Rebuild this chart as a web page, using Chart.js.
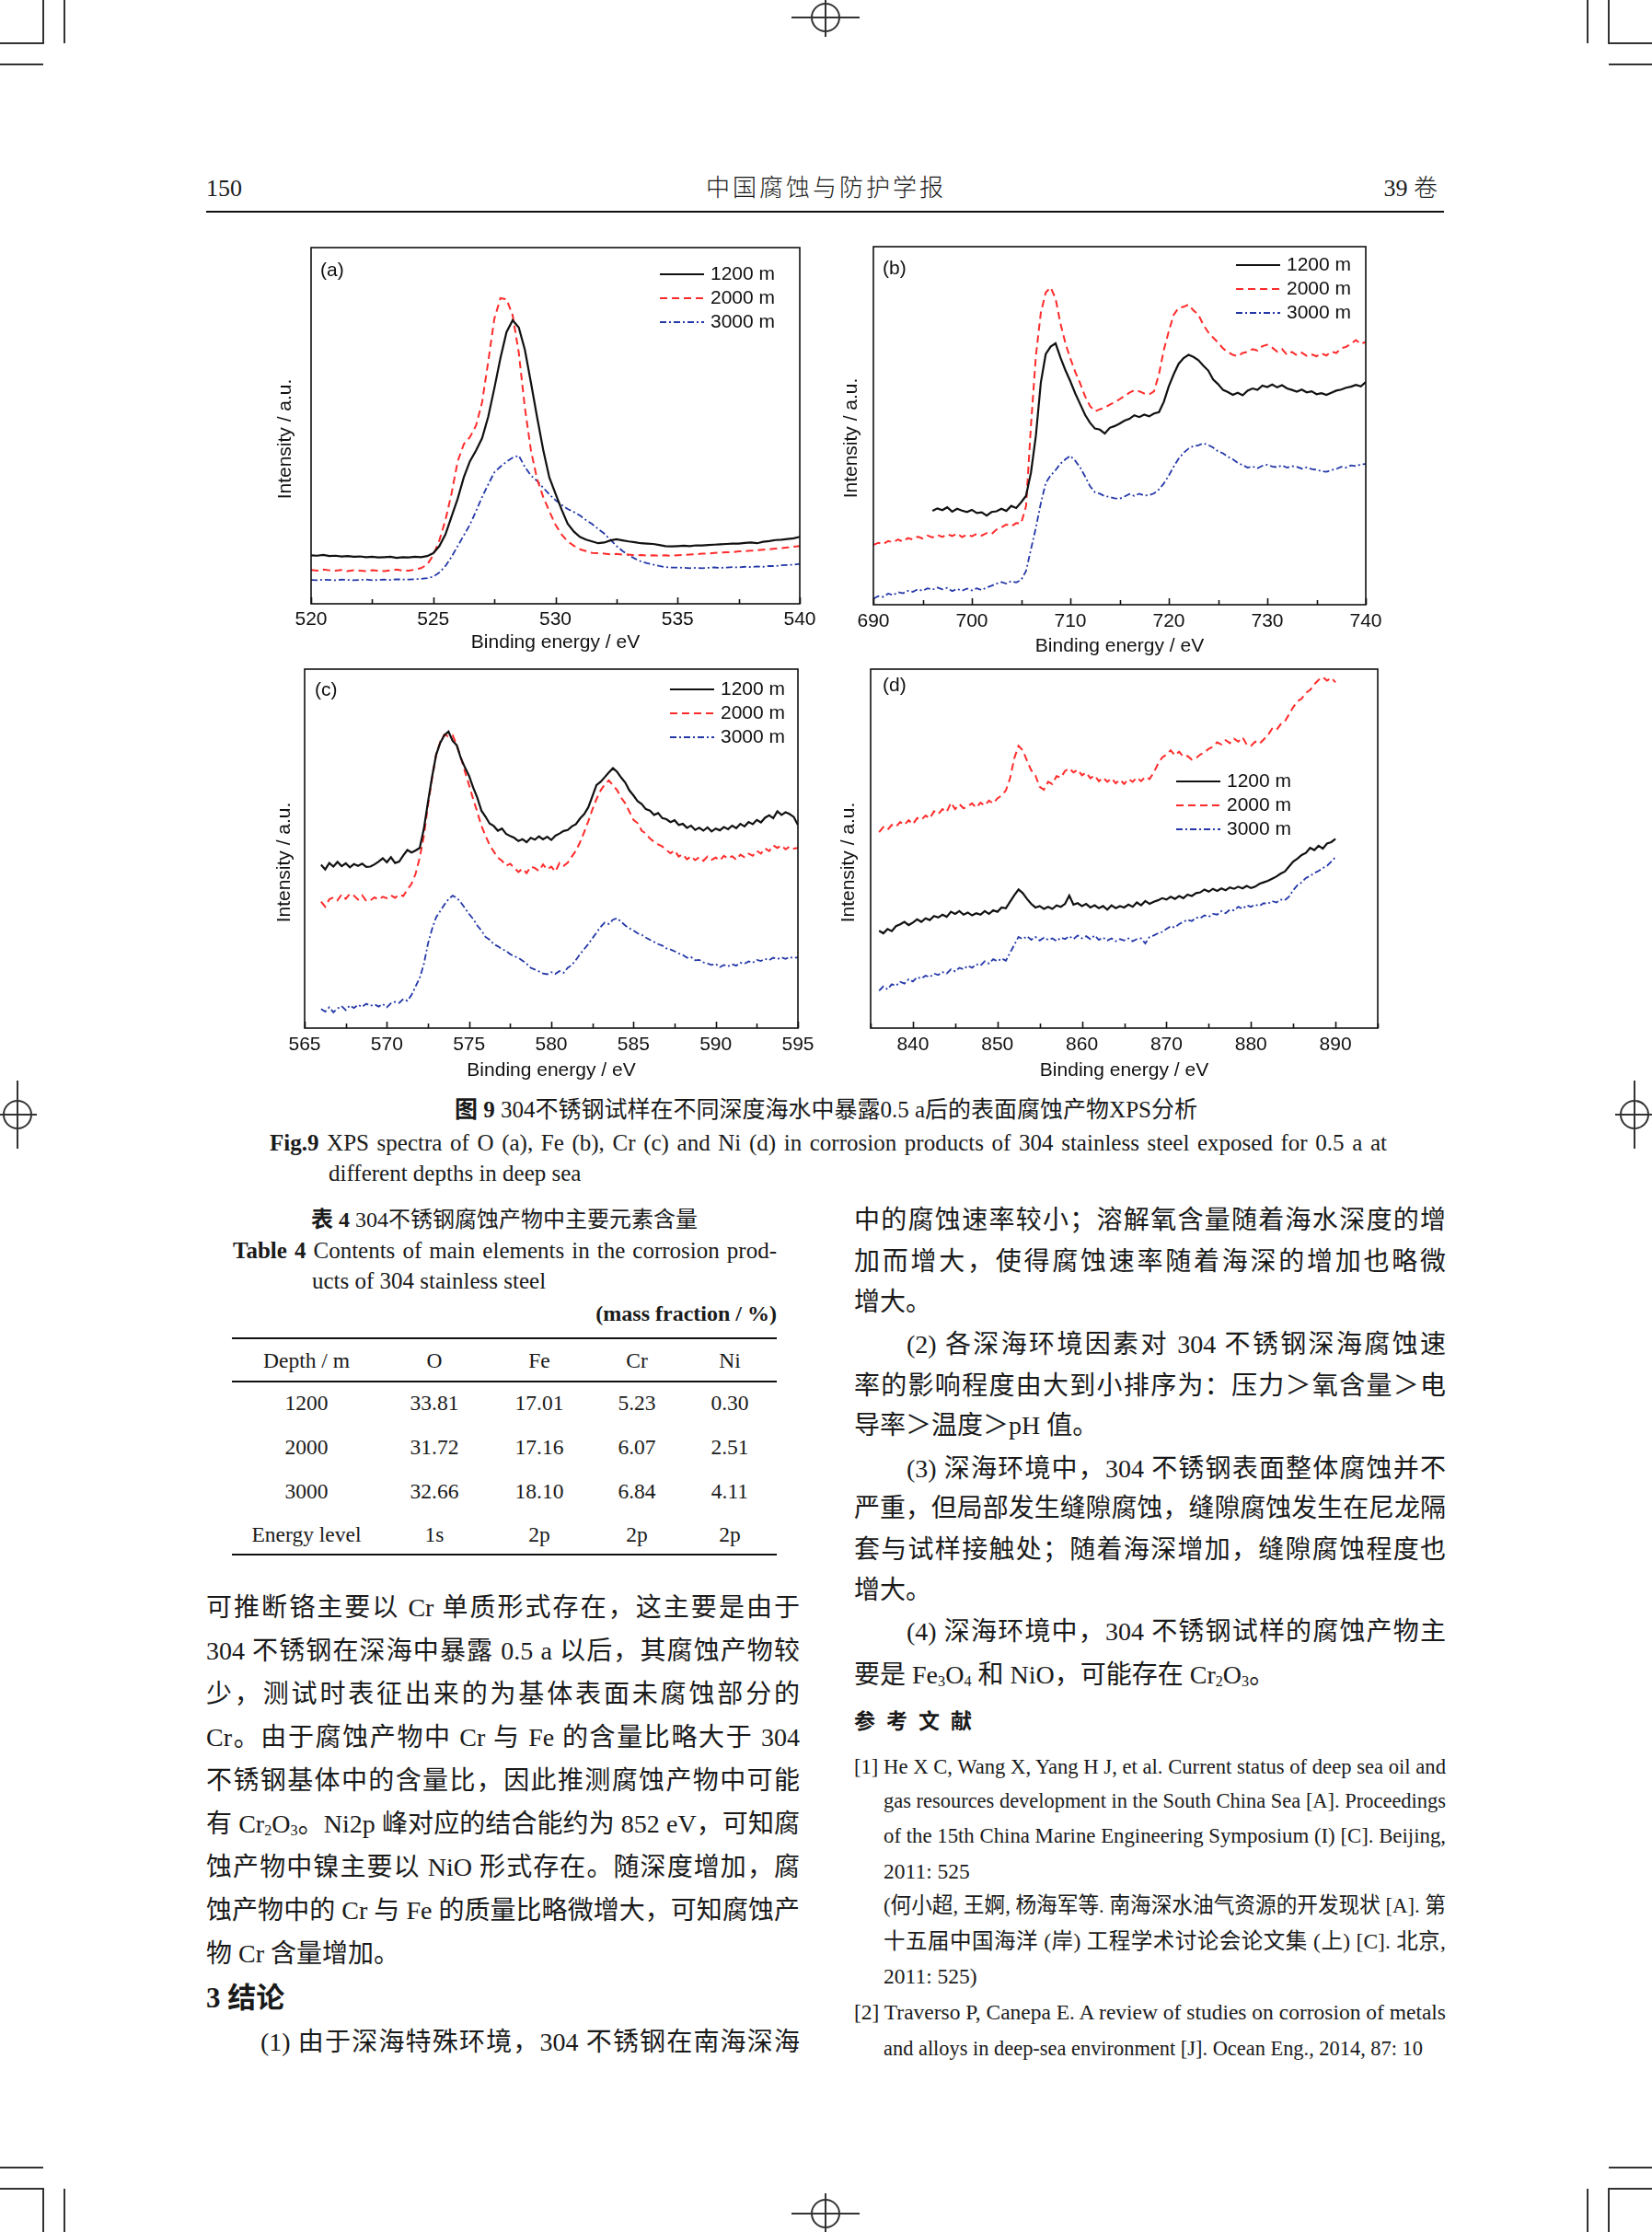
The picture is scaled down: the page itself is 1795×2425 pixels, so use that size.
<!DOCTYPE html>
<html>
<head>
<meta charset="utf-8">
<script src="https://cdn.jsdelivr.net/npm/chart.js@4.4.1/dist/chart.umd.min.js"></script>
<style>
  html, body { margin: 0; padding: 0; background: #fff; }
  #page { position: relative; width: 1795px; height: 2425px; overflow: hidden; background: #fff;
          font-family: "Liberation Serif", "Noto Sans CJK SC", serif; color: #1a1a1a; }
  .ln { position: absolute; height: 46px; line-height: 46px; white-space: nowrap; }
  .jl { position: absolute; height: 46px; line-height: 46px; text-align: justify; text-align-last: justify; }
  .body { font-size: 28px; }
  .cap { font-size: 25px; }
  .ref { font-size: 23.5px; }
  .rule { position: absolute; background: #111; }
  canvas { position: absolute; }
  sub { font-size: 0.58em; vertical-align: -0.18em; line-height: 0; }
  b { font-weight: bold; }
</style>
</head>
<body>
<div id="page">

<svg width="1795" height="2425" style="position:absolute;left:0;top:0" stroke="#333" stroke-width="2" fill="none">
  <path d="M47 0V47H0 M70 0V47 M0 70H47"/>
  <path d="M1748 0V47H1795 M1725 0V47 M1795 70H1748"/>
  <path d="M47 2425V2378H0 M70 2425V2378 M0 2355H47"/>
  <path d="M1748 2425V2378H1795 M1725 2425V2378 M1795 2355H1748"/>
  <circle cx="897" cy="19" r="15"/><path d="M897 0V40 M860 19H934"/>
  <circle cx="897" cy="2405" r="15"/><path d="M897 2383V2425 M860 2405H934"/>
  <circle cx="19" cy="1211" r="15"/><path d="M0 1211H40 M19 1174V1248"/>
  <circle cx="1776" cy="1211" r="15"/><path d="M1755 1211H1795 M1776 1174V1248"/>
</svg>

<!-- running head -->
<div class="ln" style="left:224px;top:182px;font-size:26px">150</div>
<div class="ln" style="left:0;width:1795px;top:182px;font-size:26px;letter-spacing:3px;text-align:center;font-weight:300">中国腐蚀与防护学报</div>
<div class="ln" style="right:233px;top:182px;font-size:26px;font-weight:300">39 卷</div>
<div class="rule" style="left:224px;top:229px;width:1345px;height:2px"></div>

<!-- figure caption -->
<div class="ln" style="left:0;width:1795px;top:1183px;font-size:25px;text-align:center"><b>图 9</b> 304不锈钢试样在不同深度海水中暴露0.5 a后的表面腐蚀产物XPS分析</div>
<div class="jl cap" style="left:293px;width:1214px;top:1219px"><b>Fig.9</b> XPS spectra of O (a), Fe (b), Cr (c) and Ni (d) in corrosion products of 304 stainless steel exposed for 0.5 a at</div>
<div class="ln cap" style="left:357px;top:1252px">different depths in deep sea</div>

<!-- table captions -->
<div class="ln" style="left:248px;width:600px;top:1302px;font-size:24px;text-align:center"><b>表 4</b> 304不锈钢腐蚀产物中主要元素含量</div>
<div class="jl" style="left:253px;width:591px;top:1336px;font-size:25px"><b>Table 4</b> Contents of main elements in the corrosion prod-</div>
<div class="ln" style="left:339px;top:1369px;font-size:25px">ucts of 304 stainless steel</div>
<div class="ln" style="left:494px;width:350px;top:1404px;font-size:24px;text-align:right"><b>(mass fraction / %)</b></div>
<div class="rule" style="left:252px;top:1453px;width:592px;height:2px"></div>
<div class="rule" style="left:252px;top:1500px;width:592px;height:1.5px"></div>
<div class="rule" style="left:252px;top:1688px;width:592px;height:2px"></div>

<!-- left column text -->
<div class="jl body" style="left:224px;width:645px;top:1724px">可推断铬主要以 Cr 单质形式存在，这主要是由于</div>
<div class="jl body" style="left:224px;width:645px;top:1771px">304 不锈钢在深海中暴露 0.5 a 以后，其腐蚀产物较</div>
<div class="jl body" style="left:224px;width:645px;top:1818px">少，测试时表征出来的为基体表面未腐蚀部分的</div>
<div class="jl body" style="left:224px;width:645px;top:1865px">Cr。由于腐蚀产物中 Cr 与 Fe 的含量比略大于 304</div>
<div class="jl body" style="left:224px;width:645px;top:1912px">不锈钢基体中的含量比，因此推测腐蚀产物中可能</div>
<div class="jl body" style="left:224px;width:645px;top:1959px">有 Cr<sub>2</sub>O<sub>3</sub>。Ni2p 峰对应的结合能约为 852 eV，可知腐</div>
<div class="jl body" style="left:224px;width:645px;top:2006px">蚀产物中镍主要以 NiO 形式存在。随深度增加，腐</div>
<div class="jl body" style="left:224px;width:645px;top:2053px">蚀产物中的 Cr 与 Fe 的质量比略微增大，可知腐蚀产</div>
<div class="ln body" style="left:224px;top:2100px">物 Cr 含量增加。</div>
<div class="ln" style="left:224px;top:2148px;font-size:31px;font-weight:bold">3 结论</div>
<div class="jl body" style="left:283px;width:586px;top:2196px">(1) 由于深海特殊环境，304 不锈钢在南海深海</div>

<!-- right column text -->
<div class="jl body" style="left:928px;width:643px;top:1303px">中的腐蚀速率较小；溶解氧含量随着海水深度的增</div>
<div class="jl body" style="left:928px;width:643px;top:1348px">加而增大，使得腐蚀速率随着海深的增加也略微</div>
<div class="ln body" style="left:928px;top:1392px">增大。</div>
<div class="jl body" style="left:985px;width:586px;top:1438px">(2) 各深海环境因素对 304 不锈钢深海腐蚀速</div>
<div class="jl body" style="left:928px;width:643px;top:1483px">率的影响程度由大到小排序为：压力＞氧含量＞电</div>
<div class="ln body" style="left:928px;top:1526px">导率＞温度＞pH 值。</div>
<div class="jl body" style="left:985px;width:586px;top:1573px">(3) 深海环境中，304 不锈钢表面整体腐蚀并不</div>
<div class="jl body" style="left:928px;width:643px;top:1616px">严重，但局部发生缝隙腐蚀，缝隙腐蚀发生在尼龙隔</div>
<div class="jl body" style="left:928px;width:643px;top:1661px">套与试样接触处；随着海深增加，缝隙腐蚀程度也</div>
<div class="ln body" style="left:928px;top:1705px">增大。</div>
<div class="jl body" style="left:985px;width:586px;top:1750px">(4) 深海环境中，304 不锈钢试样的腐蚀产物主</div>
<div class="ln body" style="left:928px;top:1797px">要是 Fe<sub>3</sub>O<sub>4</sub> 和 NiO，可能存在 Cr<sub>2</sub>O<sub>3</sub>。</div>
<div class="ln" style="left:928px;top:1848px;font-size:23px;font-weight:bold;letter-spacing:12px">参考文献</div>
<div class="jl ref" style="left:928px;width:643px;top:1896px">[1] He X C, Wang X, Yang H J, et al. Current status of deep sea oil and</div>
<div class="jl ref" style="left:960px;width:611px;top:1933px">gas resources development in the South China Sea [A]. Proceedings</div>
<div class="jl ref" style="left:960px;width:611px;top:1971px">of the 15th China Marine Engineering Symposium (I) [C]. Beijing,</div>
<div class="ln ref" style="left:960px;top:2010px">2011: 525</div>
<div class="jl ref" style="left:960px;width:611px;top:2047px">(何小超, 王婀, 杨海军等. 南海深水油气资源的开发现状 [A]. 第</div>
<div class="jl ref" style="left:960px;width:611px;top:2086px">十五届中国海洋 (岸) 工程学术讨论会论文集 (上) [C]. 北京,</div>
<div class="ln ref" style="left:960px;top:2124px">2011: 525)</div>
<div class="jl ref" style="left:928px;width:643px;top:2163px">[2] Traverso P, Canepa E. A review of studies on corrosion of metals</div>
<div class="jl ref" style="left:960px;width:586px;top:2202px">and alloys in deep-sea environment [J]. Ocean Eng., 2014, 87: 10</div>

</div>

<script>
// ---------- chart data ----------
const depthLabels = ['1200 m', '2000 m', '3000 m'];
const panelLetters = ['(a)', '(b)', '(c)', '(d)'];
const xTitle = 'Binding energy / eV';
const yTitle = 'Intensity / a.u.';

// (a) O 1s
const oEnergy = [
  520, 520.25, 520.5, 520.75, 521, 521.25, 521.5, 521.75,
  522, 522.25, 522.5, 522.75, 523, 523.25, 523.5, 523.75,
  524, 524.25, 524.5, 524.75, 525, 525.25, 525.5, 525.75,
  526, 526.25, 526.5, 526.75, 527, 527.25, 527.5, 527.75,
  528, 528.25, 528.5, 528.75, 529, 529.25, 529.5, 529.75,
  530, 530.25, 530.5, 530.75, 531, 531.25, 531.5, 531.75,
  532, 532.25, 532.5, 532.75, 533, 533.25, 533.5, 533.75,
  534, 534.25, 534.5, 534.75, 535, 535.25, 535.5, 535.75,
  536, 536.25, 536.5, 536.75, 537, 537.25, 537.5, 537.75,
  538, 538.25, 538.5, 538.75, 539, 539.25, 539.5, 539.75,
  540
];
const o1200 = [
  13.6, 13.5, 13.7, 13.4, 13.5, 13.3, 13.4, 13.2,
  13.3, 13.1, 13.2, 13.0, 13.1, 13.2, 12.9, 13.1,
  13.0, 13.2, 13.1, 13.4, 14.2, 16.2, 19.5, 24.5,
  29.5, 35.5, 40.0, 43.0, 46.5, 52.5, 60.5, 69.0,
  76.3, 79.6, 77.6, 71.3, 62.0, 52.4, 43.2, 35.5,
  31.0, 26.5, 22.5, 20.3, 18.8, 18.0, 17.5, 17.0,
  17.2, 17.8, 18.1, 17.8, 17.5, 17.3, 17.0, 16.9,
  16.8, 16.5, 16.2, 16.1, 16.2, 16.3, 16.2, 16.4,
  16.4, 16.5, 16.6, 16.7, 16.8, 16.9, 16.9, 17.1,
  17.2, 17.0, 17.4, 17.6, 17.9, 18.0, 18.2, 18.4,
  18.8
];
const o2000 = [
  9.5, 9.3, 9.6, 9.4, 9.3, 9.5, 9.2, 9.4,
  9.3, 9.2, 9.4, 9.3, 9.2, 9.4, 9.6, 9.3,
  9.3, 9.6, 10.0, 11.0, 13.6, 17.8, 23.5, 31.0,
  40.0, 44.8, 46.8, 50.0, 56.6, 68.0, 80.0, 85.8,
  85.5, 81.0, 70.5, 55.0, 43.0, 35.0, 30.0, 26.0,
  22.2, 19.5, 17.5, 16.3, 15.3, 14.8, 14.3, 14.2,
  14.1, 13.9, 14.0, 13.8, 13.8, 13.6, 13.7, 13.5,
  13.6, 13.5, 13.6, 13.5, 13.6, 13.7, 13.8, 13.9,
  14.1, 14.1, 14.3, 14.4, 14.5, 14.5, 14.7, 14.8,
  14.9, 15.0, 15.2, 15.3, 15.5, 15.6, 15.8, 16.0,
  16.2
];
const o3000 = [
  6.7, 6.6, 6.8, 6.7, 6.6, 6.8, 6.7, 6.6,
  6.7, 6.8, 6.6, 6.7, 6.8, 6.7, 6.9, 6.8,
  6.8, 6.9, 7.0, 7.2, 7.6, 8.8, 10.6, 13.2,
  16.2, 19.2, 22.2, 26.0, 30.0, 33.5, 36.9, 38.5,
  39.9, 41.0, 41.6, 38.4, 36.0, 34.5, 32.6, 30.7,
  29.1, 27.8, 26.6, 25.8, 24.8, 23.5, 22.4, 21.0,
  19.7, 18.0, 16.2, 14.8, 13.6, 12.7, 11.9, 11.4,
  11.0, 10.6, 10.3, 10.2, 10.2, 10.1, 10.0, 10.1,
  10.0, 10.1, 10.2, 10.1, 10.2, 10.3, 10.2, 10.4,
  10.3, 10.5, 10.4, 10.6, 10.6, 10.8, 10.9, 11.0,
  11.2
];

// (b) Fe 2p
const feEnergy = [
  690, 690.5, 691, 691.5, 692, 692.5, 693, 693.5, 694, 694.5,
  695, 695.5, 696, 696.5, 697, 697.5, 698, 698.5, 699, 699.5,
  700, 700.5, 701, 701.5, 702, 702.5, 703, 703.5, 704, 704.5,
  705, 705.5, 706, 706.5, 707, 707.5, 708, 708.5, 709, 709.5,
  710, 710.5, 711, 711.5, 712, 712.5, 713, 713.5, 714, 714.5,
  715, 715.5, 716, 716.5, 717, 717.5, 718, 718.5, 719, 719.5,
  720, 720.5, 721, 721.5, 722, 722.5, 723, 723.5, 724, 724.5,
  725, 725.5, 726, 726.5, 727, 727.5, 728, 728.5, 729, 729.5,
  730, 730.5, 731, 731.5, 732, 732.5, 733, 733.5, 734, 734.5,
  735, 735.5, 736, 736.5, 737, 737.5, 738, 738.5, 739, 739.5,
  740
];
const fe1200 = [
  null, null, null, null, null, null, null, null, null, null,
  null, null, 26.2, 26.9, 26.4, 27.2, 26.0, 26.8, 26.3, 25.9,
  26.5, 25.6, 25.8, 24.9, 25.9, 26.1, 26.8, 26.2, 27.6, 27.0,
  28.6, 30.4, 36.9, 47.2, 62.0, 70.0, 72.1, 73.0, 69.0, 65.5,
  62.4, 59.0, 56.0, 53.0, 50.8, 49.2, 48.9, 47.8, 49.4, 49.9,
  50.6, 51.4, 51.9, 52.9, 52.4, 53.1, 52.6, 53.4, 53.8, 56.7,
  61.0, 64.4, 67.3, 68.9, 69.8, 69.2, 68.3, 66.8, 65.4, 62.9,
  61.6, 60.0, 59.4, 58.6, 59.2, 58.5, 59.8, 60.4, 60.0, 61.2,
  60.8, 61.5, 60.7, 61.3, 60.4, 60.0, 59.5, 60.1, 59.3, 59.6,
  58.8, 59.1, 58.6, 59.2, 59.8, 60.1, 60.6, 60.9, 61.4, 61.0,
  62.2
];
const fe2000 = [
  16.7, 17.3, 16.9, 17.8, 17.4, 18.2, 17.6, 18.6, 18.2, 19.0,
  18.5, 19.3, 18.8, 19.5, 18.9, 19.7, 19.2, 19.9, 18.9, 19.6,
  19.1, 19.8, 19.3, 20.0, 19.7, 21.0, 21.6, 22.4, 21.9, 22.8,
  22.7, 27.5, 50.0, 69.5, 81.5, 87.2, 88.6, 85.5, 78.5, 73.0,
  68.8, 65.0, 61.8, 58.2, 55.5, 54.0, 54.6, 55.0, 55.9, 56.5,
  57.4, 58.3, 59.2, 59.9, 59.6, 59.0, 58.7, 59.6, 64.4, 71.2,
  76.4, 81.0, 82.9, 83.2, 83.8, 82.2, 81.0, 78.2, 76.1, 74.6,
  73.2, 71.6, 70.5, 69.8, 69.4, 70.3, 70.6, 71.4, 71.0, 72.2,
  72.6, 71.8, 70.7, 71.4, 69.8, 70.6, 69.7, 70.4, 69.5, 69.9,
  69.4, 70.2, 69.6, 70.7, 70.3, 71.6, 72.0, 72.9, 73.9, 72.8,
  73.4
];
const fe3000 = [
  1.7, 2.4, 2.2, 3.1, 2.7, 3.5, 3.2, 3.9, 3.6, 4.3,
  3.9, 4.6, 4.2, 4.8, 4.3, 4.7, 3.8, 4.4, 3.9, 4.5,
  4.0, 4.6, 4.1, 4.8, 5.3, 5.9, 6.3, 5.9, 6.6, 6.2,
  6.9, 9.4, 15.5, 21.5, 28.3, 34.0, 36.1, 37.6, 39.4, 40.6,
  41.6, 40.2, 38.3, 35.8, 33.1, 31.4, 31.0, 30.3, 30.1, 29.7,
  29.6, 30.2, 30.9, 30.4, 31.0, 30.5, 30.6, 31.1, 32.2, 33.9,
  36.1, 38.6, 40.8, 42.4, 43.6, 44.3, 44.5, 45.1, 44.6, 43.9,
  42.8, 42.3, 41.3, 40.6, 39.6, 39.0, 38.3, 38.6, 38.1, 38.8,
  39.1, 38.6, 38.4, 38.9, 38.3, 38.7, 38.5, 38.0, 38.4, 37.9,
  37.7, 37.3, 37.1, 37.6, 37.9, 38.5, 38.3, 38.9, 38.7, 39.2,
  39.3
];

// (c) Cr 2p
const crEnergy = [
  566, 566.25, 566.5, 566.75, 567, 567.25, 567.5, 567.75,
  568, 568.25, 568.5, 568.75, 569, 569.25, 569.5, 569.75,
  570, 570.25, 570.5, 570.75, 571, 571.25, 571.5, 571.75,
  572, 572.25, 572.5, 572.75, 573, 573.25, 573.5, 573.75,
  574, 574.25, 574.5, 574.75, 575, 575.25, 575.5, 575.75,
  576, 576.25, 576.5, 576.75, 577, 577.25, 577.5, 577.75,
  578, 578.25, 578.5, 578.75, 579, 579.25, 579.5, 579.75,
  580, 580.25, 580.5, 580.75, 581, 581.25, 581.5, 581.75,
  582, 582.25, 582.5, 582.75, 583, 583.25, 583.5, 583.75,
  584, 584.25, 584.5, 584.75, 585, 585.25, 585.5, 585.75,
  586, 586.25, 586.5, 586.75, 587, 587.25, 587.5, 587.75,
  588, 588.25, 588.5, 588.75, 589, 589.25, 589.5, 589.75,
  590, 590.25, 590.5, 590.75, 591, 591.25, 591.5, 591.75,
  592, 592.25, 592.5, 592.75, 593, 593.25, 593.5, 593.75,
  594, 594.25, 594.5, 594.75, 595
];
const cr1200 = [
  45.5, 44.2, 46.0, 45.0, 46.3, 45.1, 45.9, 44.8,
  45.7, 45.2, 45.8, 44.9, 45.0, 45.6, 46.4, 47.3,
  46.2, 47.6, 46.0, 46.4, 48.1, 49.6, 48.9, 49.5,
  50.2, 55.5, 63.0, 70.0, 76.2, 79.5, 81.6, 82.6,
  80.0, 78.8, 75.2, 72.6, 70.3, 67.0, 64.2, 60.6,
  58.9, 57.0, 56.3, 55.0, 55.6, 54.1, 53.5, 53.0,
  52.1, 52.6, 51.8, 53.0, 52.5, 53.4, 52.6, 53.3,
  52.4, 53.6, 54.2, 54.9, 55.2, 56.2, 56.8, 58.4,
  59.6, 61.5, 64.6, 67.7, 68.6, 69.9, 71.2, 72.4,
  71.4, 69.8, 68.4, 66.2, 64.8, 63.2, 62.4, 61.0,
  60.6, 59.4, 59.9, 58.5, 58.2, 57.4, 57.9, 56.6,
  56.9, 55.8, 56.4, 55.2, 55.8, 55.0, 55.9, 54.8,
  55.6, 55.1, 56.0, 55.4, 56.4, 55.7, 56.9, 56.2,
  57.4, 56.8, 58.0, 57.3, 58.6, 59.3, 58.5, 60.4,
  59.4, 60.1, 59.6, 58.8, 56.6
];
const cr2000 = [
  35.2, 33.8, 35.9, 36.4, 35.6, 37.2, 36.0, 37.4,
  36.9, 35.8, 37.0, 35.4, 35.6, 36.4, 35.8, 36.6,
  36.2, 37.0, 36.3, 37.2, 36.8, 38.6, 40.2, 43.0,
  47.5, 53.5, 62.0, 69.5, 76.2, 79.8, 81.8, 81.2,
  81.6, 78.8, 75.4, 71.5, 67.7, 63.8, 60.2, 56.4,
  53.6, 51.0, 49.2, 47.5, 46.6, 45.2, 45.8, 44.6,
  43.5, 44.4, 43.2, 45.0, 44.6, 43.8, 45.6, 44.2,
  45.0, 43.6, 46.0, 45.2, 46.1, 47.8, 49.4, 51.8,
  54.6, 57.6, 60.9, 63.8, 66.2, 67.9, 69.0, 67.6,
  66.3, 64.2, 62.6, 60.3, 58.0, 57.1, 55.0, 54.2,
  52.8, 51.9, 51.2, 50.6, 49.6, 48.7, 49.5, 47.8,
  48.4, 47.0, 47.9, 46.8, 47.6, 46.6, 47.8, 46.9,
  47.5, 46.7, 48.0, 47.2, 47.9, 46.9, 48.3, 47.6,
  48.6, 48.0, 49.4, 48.6, 50.1, 49.3, 50.9, 50.2,
  50.9, 49.8, 50.6, 50.0, 50.2
];
const cr3000 = [
  5.3, 4.6, 5.8, 4.4, 5.5, 6.1, 5.0, 6.3,
  5.6, 6.5, 5.9, 6.8, 6.2, 6.6, 6.0, 6.7,
  5.8, 6.9, 7.3, 7.0, 8.1, 7.6, 9.2, 11.6,
  14.0, 17.8, 23.5, 27.6, 30.9, 32.6, 34.4, 35.9,
  36.9, 36.3, 35.0, 33.4, 31.8, 30.4, 28.6, 27.2,
  25.4, 24.6, 23.4, 22.8, 22.0, 21.5, 20.6, 20.0,
  19.6, 18.8, 17.9, 16.8, 16.3, 15.8, 15.2, 15.0,
  15.6, 15.1, 15.9, 15.4, 16.8, 17.6, 19.0, 20.6,
  22.0, 23.4, 25.0, 26.6, 28.2, 29.4, 29.0, 30.2,
  30.6, 29.6, 28.6, 27.8, 27.2, 26.4, 26.0, 25.2,
  24.6, 24.0, 23.4, 23.0, 22.2, 21.9, 21.4, 20.8,
  20.4, 19.6, 19.8, 18.9, 19.0, 18.3, 18.0, 17.6,
  17.9, 17.0, 17.6, 17.2, 17.8, 17.4, 18.2, 17.9,
  18.6, 18.2, 19.0, 18.7, 19.3, 18.9, 19.6, 19.2,
  19.7, 19.3, 19.8, 19.5, 19.7
];

// (d) Ni 2p
const niEnergy = [
  836, 836.5, 837, 837.5, 838, 838.5, 839, 839.5, 840, 840.5,
  841, 841.5, 842, 842.5, 843, 843.5, 844, 844.5, 845, 845.5,
  846, 846.5, 847, 847.5, 848, 848.5, 849, 849.5, 850, 850.5,
  851, 851.5, 852, 852.5, 853, 853.5, 854, 854.5, 855, 855.5,
  856, 856.5, 857, 857.5, 858, 858.5, 859, 859.5, 860, 860.5,
  861, 861.5, 862, 862.5, 863, 863.5, 864, 864.5, 865, 865.5,
  866, 866.5, 867, 867.5, 868, 868.5, 869, 869.5, 870, 870.5,
  871, 871.5, 872, 872.5, 873, 873.5, 874, 874.5, 875, 875.5,
  876, 876.5, 877, 877.5, 878, 878.5, 879, 879.5, 880, 880.5,
  881, 881.5, 882, 882.5, 883, 883.5, 884, 884.5, 885, 885.5,
  886, 886.5, 887, 887.5, 888, 888.5, 889, 889.5, 890
];
const ni1200 = [
  27.1, 26.4, 27.6, 27.0, 28.4, 28.9, 29.6, 28.7, 29.4, 30.3,
  29.6, 30.6, 30.1, 31.2, 30.8, 31.6, 31.0, 32.4, 31.8, 32.6,
  31.6, 32.2, 31.4, 32.0, 31.6, 32.6, 31.8, 32.8, 32.4, 33.6,
  33.4, 35.2, 37.0, 38.6, 37.6, 36.0, 34.6, 33.6, 34.0, 33.2,
  33.8, 33.2, 34.2, 33.8, 34.6, 36.9, 34.4, 34.8, 34.0, 34.6,
  33.6, 34.2, 33.4, 34.0, 33.0, 34.2, 33.4, 34.0, 33.6, 34.4,
  33.8, 35.0, 34.2, 35.4, 34.6, 35.2, 35.6, 36.2, 35.8, 36.6,
  36.0, 36.8, 36.2, 37.2, 36.8, 37.6, 37.8, 38.6, 38.0, 38.8,
  38.2, 38.9, 38.4, 39.2, 38.8, 39.4, 38.9, 39.6, 39.0, 39.4,
  40.2, 40.6, 41.0, 41.6, 42.2, 43.0, 43.6, 45.0, 46.4, 47.2,
  48.2, 48.8, 50.2, 49.6, 50.8, 50.0, 51.4, 51.8, 52.7
];
const ni2000 = [
  54.6, 56.0, 55.2, 56.6, 56.1, 57.4, 56.6, 57.9, 56.8, 58.5,
  58.0, 59.2, 58.4, 60.4, 59.6, 61.0, 60.2, 62.8, 61.0, 62.4,
  61.2, 61.8, 62.6, 61.4, 62.8, 62.0, 63.4, 62.6, 64.0, 64.8,
  66.2, 69.6, 75.2, 78.6, 77.4, 74.5, 71.8, 70.4, 67.2, 66.4,
  68.6, 68.0, 70.2, 69.8, 71.6, 72.4, 71.2, 72.0, 70.4, 71.2,
  69.6, 70.4, 68.8, 69.8, 68.6, 69.6, 68.2, 69.2, 68.0, 69.4,
  68.6, 69.8, 68.8, 70.0, 69.4, 71.2, 73.6, 75.4, 76.2, 77.4,
  76.0, 77.0, 75.6, 75.8, 74.8, 75.2, 76.2, 76.8, 77.8, 78.4,
  79.6, 79.0, 80.2, 79.4, 80.6, 79.8, 81.0, 79.0, 78.6, 79.8,
  79.2, 80.4, 81.6, 83.4, 83.0, 84.6, 85.4, 87.4, 89.4, 91.0,
  91.8, 93.4, 94.2, 95.8, 97.0, 97.8, 96.8, 97.6, 96.3
];
const ni3000 = [
  10.4, 11.6, 10.8, 12.2, 11.8, 12.9, 12.4, 13.6, 13.0, 14.2,
  13.8, 14.6, 14.2, 15.2, 14.8, 15.6, 15.2, 16.4, 15.8, 16.8,
  16.4, 17.4, 16.8, 17.8, 17.4, 18.6, 18.0, 19.2, 18.6, 19.4,
  18.8, 21.0, 23.2, 25.4, 24.8, 25.6, 24.6, 25.4, 24.4, 25.2,
  24.6, 25.0, 24.2, 25.2, 24.8, 25.6, 24.8, 25.8, 25.0, 25.6,
  24.8, 25.8, 24.6, 25.2, 24.4, 25.0, 24.2, 24.8, 24.4, 25.0,
  24.2, 24.8, 25.0, 23.6, 25.4, 25.8, 26.4, 26.8, 27.6, 28.4,
  28.0, 29.0, 29.6, 30.2, 29.8, 30.8, 30.6, 31.4, 31.0, 31.8,
  31.6, 32.6, 32.0, 33.0, 32.8, 33.8, 33.2, 34.2, 33.8, 34.4,
  34.0, 34.8, 34.6, 35.4, 35.0, 35.8, 35.6, 36.6, 38.4, 39.8,
  40.6, 41.8, 42.4, 43.2, 43.8, 44.6, 45.2, 46.4, 47.6
];

// ---------- table 4 ----------
const tableHead = ['Depth / m', 'O', 'Fe', 'Cr', 'Ni'];
const tableRows = [
  ['1200', '33.81', '17.01', '5.23', '0.30'],
  ['2000', '31.72', '17.16', '6.07', '2.51'],
  ['3000', '32.66', '18.10', '6.84', '4.11'],
  ['Energy level', '1s', '2p', '2p', '2p']
];

const page = document.getElementById('page');

// table cells
const colX = [333, 472, 586, 692, 793];
const rowY = [1478, 1524, 1572, 1620, 1667];
[tableHead].concat(tableRows).forEach((row, r) => {
  row.forEach((txt, c) => {
    const d = document.createElement('div');
    d.className = 'ln';
    d.style.cssText = `left:${colX[c] - 100}px;width:200px;top:${rowY[r] - 23}px;text-align:center;font-size:23.5px`;
    d.textContent = txt;
    page.appendChild(d);
  });
});

// squeeze justified lines that are wider than their column
document.querySelectorAll('.jl').forEach(el => {
  const w = el.clientWidth;
  const probe = document.createElement('span');
  probe.innerHTML = el.innerHTML;
  probe.style.cssText = 'position:absolute;left:0;top:0;visibility:hidden;white-space:nowrap';
  el.appendChild(probe);
  const nat = probe.getBoundingClientRect().width;
  el.removeChild(probe);
  if (nat > w) {
    el.style.whiteSpace = 'nowrap';
    el.style.textAlign = 'left';
    el.style.textAlignLast = 'left';
    el.style.width = nat + 'px';
    el.style.transformOrigin = '0 50%';
    el.style.transform = 'scaleX(' + (w / nat) + ')';
  }
});

// ---------- charts ----------
const chartFont = '"Liberation Sans", Arial, sans-serif';
const fs = 21;
const lh = fs * 1.2;
const ML = 60, MR = 45, MT = 12, MB = 75;

const lineStyles = [
  { color: '#111111', width: 2.2, dash: [] },
  { color: '#ff2b2b', width: 2, dash: [8, 5] },
  { color: '#2438a8', width: 1.8, dash: [7, 3, 2, 3] }
];

// box = [left, right, top, bottom] of the plot frame on the page
const panels = [
  { letter: panelLetters[0], energy: oEnergy, series: [o1200, o2000, o3000], min: 520, max: 540, step: 2.5, every: 5,
    box: [338, 869, 269, 656], tickY: 673, xTitleY: 698, yTitleAt: [310, 477], letterAt: [10, 25], legendAt: [152, 29] },
  { letter: panelLetters[1], energy: feEnergy, series: [fe1200, fe2000, fe3000], min: 690, max: 740, step: 5, every: 10,
    box: [949, 1484, 268, 657], tickY: 675, xTitleY: 702, yTitleAt: [925, 476], letterAt: [10, 24], legendAt: [141, 20] },
  { letter: panelLetters[2], energy: crEnergy, series: [cr1200, cr2000, cr3000], min: 565, max: 595, step: 2.5, every: 5,
    box: [331, 867, 727, 1117], tickY: 1135, xTitleY: 1163, yTitleAt: [309, 937], letterAt: [11, 23], legendAt: [139, 22] },
  { letter: panelLetters[3], energy: niEnergy, series: [ni1200, ni2000, ni3000], min: 835, max: 895, step: 5, every: 10,
    box: [946, 1497, 727, 1117], tickY: 1135, xTitleY: 1163, yTitleAt: [922, 937], letterAt: [13, 18], legendAt: [219, 122] }
];

function toPoints(xs, ys) {
  const out = [];
  ys.forEach((y, i) => { if (y !== null) out.push({ x: xs[i], y: y }); });
  return out;
}

// frame, inward ticks, panel letter, line legend and y title
const decor = {
  id: 'decor',
  afterDatasetsDraw(chart, args, o) {
    const { ctx, chartArea: a } = chart;
    const xs = chart.scales.x;
    ctx.save();
    ctx.strokeStyle = '#111';
    ctx.lineWidth = 1.6;
    ctx.setLineDash([]);
    ctx.strokeRect(a.left, a.top, a.right - a.left, a.bottom - a.top);
    xs.ticks.forEach(t => {
      const px = Math.round(xs.getPixelForValue(t.value)) + 0.5;
      const len = t.label ? 7 : 5;
      ctx.beginPath(); ctx.moveTo(px, a.bottom); ctx.lineTo(px, a.bottom - len); ctx.stroke();
    });
    ctx.fillStyle = '#111';
    ctx.font = fs + 'px ' + chartFont;
    ctx.textBaseline = 'middle';
    ctx.textAlign = 'left';
    ctx.fillText(o.letter, a.left + o.letterAt[0], a.top + o.letterAt[1]);
    chart.data.datasets.forEach((ds, i) => {
      const y = a.top + o.legendAt[1] + i * 26;
      const x0 = a.right - o.legendAt[0];
      ctx.strokeStyle = ds.borderColor;
      ctx.lineWidth = ds.borderWidth;
      ctx.setLineDash(ds.borderDash);
      ctx.beginPath(); ctx.moveTo(x0, y); ctx.lineTo(x0 + 48, y); ctx.stroke();
      ctx.setLineDash([]);
      ctx.fillText(ds.label, x0 + 55, y);
    });
    ctx.translate(o.yTitleAt[0], o.yTitleAt[1]);
    ctx.rotate(-Math.PI / 2);
    ctx.textAlign = 'center';
    ctx.fillText(yTitle, 0, 0);
    ctx.restore();
  }
};

panels.forEach(p => {
  const [l, r, t, b] = p.box;
  const cv = document.createElement('canvas');
  cv.width = r - l + ML + MR;
  cv.height = b - t + MT + MB;
  cv.style.left = (l - ML) + 'px';
  cv.style.top = (t - MT) + 'px';
  page.appendChild(cv);
  const isLabel = v => Math.abs(v / p.every - Math.round(v / p.every)) < 1e-6;

  new Chart(cv, {
    type: 'line',
    data: {
      datasets: p.series.map((s, i) => ({
        label: depthLabels[i],
        data: toPoints(p.energy, s),
        borderColor: lineStyles[i].color,
        borderWidth: lineStyles[i].width,
        borderDash: lineStyles[i].dash,
        pointRadius: 0,
        tension: 0,
        fill: false
      }))
    },
    options: {
      responsive: false,
      animation: false,
      devicePixelRatio: 1,
      layout: { padding: { left: 0, right: MR, top: MT, bottom: 0 } },
      plugins: {
        legend: { display: false },
        tooltip: { enabled: false },
        decor: {
          letter: p.letter,
          letterAt: p.letterAt,
          legendAt: p.legendAt,
          yTitleAt: [p.yTitleAt[0] - (l - ML), p.yTitleAt[1] - (t - MT)]
        }
      },
      scales: {
        x: {
          type: 'linear', min: p.min, max: p.max,
          grid: { display: false, drawTicks: false },
          border: { display: false },
          ticks: {
            stepSize: p.step, autoSkip: false, maxRotation: 0, minRotation: 0,
            padding: p.tickY - b - lh / 2,
            color: '#111', font: { family: chartFont, size: fs },
            callback: v => isLabel(v) ? String(v) : ''
          },
          title: {
            display: true, text: xTitle, color: '#111',
            font: { family: chartFont, size: fs },
            padding: { top: 0, bottom: (b + MB) - p.xTitleY - lh / 2 }
          },
          afterFit: s => { s.height = MB; s.paddingLeft = 0; s.paddingRight = 0; }
        },
        y: {
          min: 0, max: 100,
          grid: { display: false, drawTicks: false },
          border: { display: false },
          ticks: { display: false },
          afterFit: s => { s.width = ML; s.paddingTop = 0; s.paddingBottom = 0; }
        }
      }
    },
    plugins: [decor]
  });
});
</script>
</body>
</html>
